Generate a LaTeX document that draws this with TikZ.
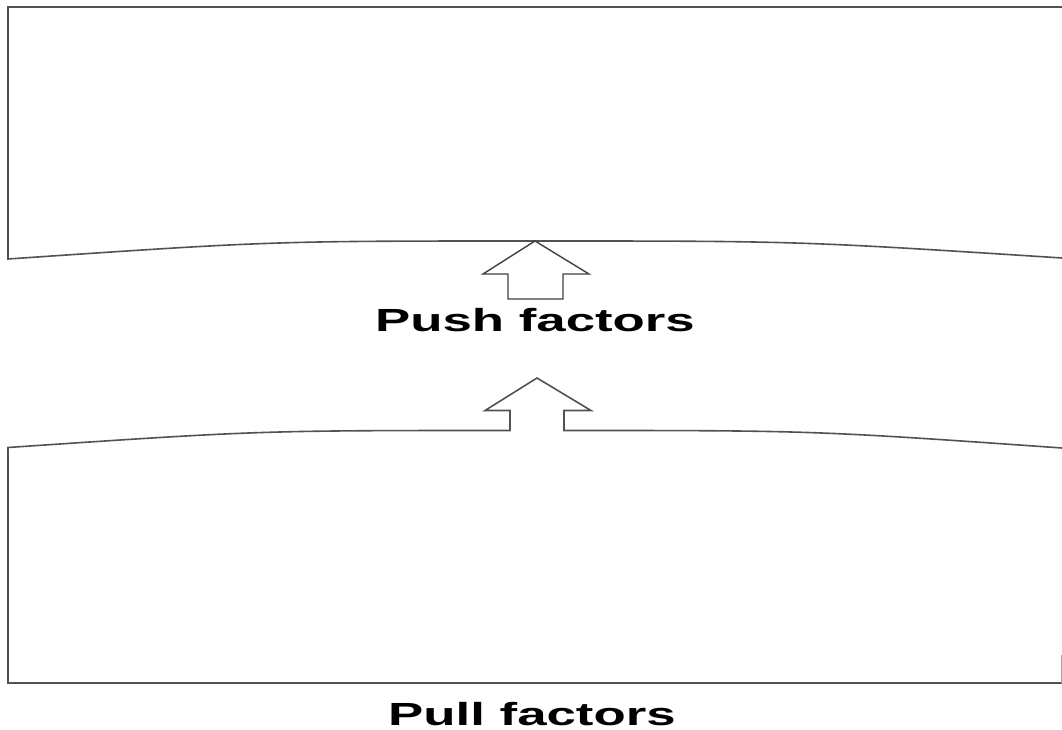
\documentclass[tikz,border=0pt]{standalone}
\usepackage{fontspec}
\setmainfont{Liberation Sans}
\usepackage{graphicx}
\begin{document}
\begin{tikzpicture}[x=1pt,y=-1pt,
  outline/.style={draw=black!68, line width=1.6pt, line join=miter},
  label/.style={anchor=base, inner sep=0pt, text=black, font=\fontsize{32}{32}\selectfont\bfseries}]
\useasboundingbox (0,0) rectangle (1062,730);
% top region with push arrow
\draw[outline] (1062,7) -- (8,7) -- (8,259) .. controls (271.5,241) .. (535,241) .. controls (798.5,241) .. (1062,258);
\draw[outline, line width=1.4pt, draw=black!75] (535,241) -- (483,274) -- (508,274) -- (508,299) -- (563,299) -- (563,274) -- (589,274) -- cycle;
\node[label] (push) at (535,331) {\scalebox{1.65}[1]{Push factors}};
% bottom region with pull arrow
\draw[outline] (1062,683) -- (8,683) -- (8,447.5) .. controls (259,430.5) .. (510,430.5) -- (510,410.5) -- (485,410.5) -- (537,378) -- (591,410.5) -- (564,410.5) -- (564,430.5) .. controls (813,430.5) .. (1062,448);
\draw[draw=black!35, line width=0.8pt] (1061.6,655) -- (1061.6,683);
\node[label] (pull) at (532,725) {\scalebox{1.65}[1]{Pull factors}};
\end{tikzpicture}
\end{document}
